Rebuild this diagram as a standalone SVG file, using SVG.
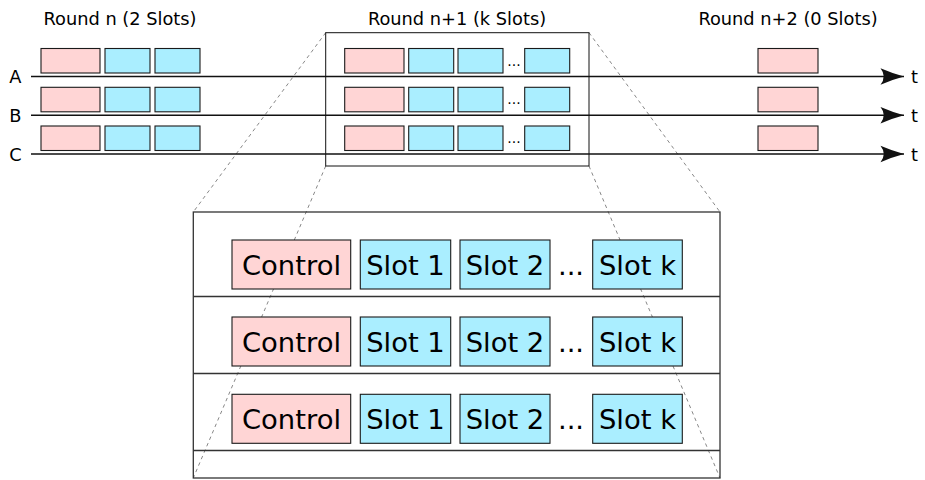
<svg xmlns="http://www.w3.org/2000/svg" width="925" height="480" viewBox="0 0 925 480">
  <style>
    text { font-family: "DejaVu Sans", "Liberation Sans", sans-serif; fill: #000; }
    .hdr { font-size: 17.8px; text-anchor: middle; }
    .lbl { font-size: 17.8px; }
    .big { font-size: 27.4px; text-anchor: middle; }
    .dots { font-size: 14px; text-anchor: middle; }
    .ctl { fill: #ffd5d5; stroke: #1a1a1a; stroke-width: 1.1; }
    .slot { fill: #aaeeff; stroke: #1a1a1a; stroke-width: 1.1; }
    .axis { fill: none; stroke: #111; stroke-width: 1.5; marker-end: url(#head); }
    .proj { fill: none; stroke: #888; stroke-width: 1; stroke-dasharray: 3.5 3.5; }
    .frame { fill: none; stroke: #333; stroke-width: 1.3; }
  </style>
  <defs>
    <marker id="head" markerUnits="userSpaceOnUse" viewBox="-25 -9 26 18" refX="0" refY="0" markerWidth="26" markerHeight="18" orient="auto">
      <path d="M0,0 Q-12,-3.2 -23.5,-8.2 Q-17,0 -23.5,8.2 Q-12,3.2 0,0 Z" fill="#111"/>
    </marker>
  </defs>

  <rect width="925" height="480" fill="#fff"/>

  <!-- round headings -->
  <g id="headings">
    <text class="hdr" x="120" y="24.5">Round n (2 Slots)</text>
    <text class="hdr" x="457" y="24.5">Round n+1 (k Slots)</text>
    <text class="hdr" x="788" y="24.5">Round n+2 (0 Slots)</text>
  </g>

  <!-- projection lines from the round n+1 frame to the enlarged view -->
  <g id="connectors">
    <line class="proj" x1="325.7" y1="32.7" x2="193.3" y2="212"/>
    <line class="proj" x1="325.7" y1="166" x2="193.3" y2="478"/>
    <line class="proj" x1="589" y1="32.7" x2="720" y2="212"/>
    <line class="proj" x1="589" y1="166" x2="720" y2="478"/>
    <!-- time axes -->
    <line class="axis" x1="31" y1="76.5" x2="904" y2="76.5"/>
    <line class="axis" x1="31" y1="115.3" x2="904" y2="115.3"/>
    <line class="axis" x1="31" y1="154" x2="904" y2="154"/>
  </g>

  <!-- node labels and time marks -->
  <g id="labels">
    <text class="lbl" x="9.3" y="83">A</text>
    <text class="lbl" x="9.3" y="121.8">B</text>
    <text class="lbl" x="9.3" y="160.5">C</text>
    <text class="lbl" x="911" y="83">t</text>
    <text class="lbl" x="911" y="121.8">t</text>
    <text class="lbl" x="911" y="160.5">t</text>
  </g>

  <!-- round n: control + 2 slots per node -->
  <g id="round-n">
    <rect class="ctl" x="41" y="48.5" width="59" height="24.5"/>
    <rect class="slot" x="105" y="48.5" width="45" height="24.5"/>
    <rect class="slot" x="155" y="48.5" width="45" height="24.5"/>
    <rect class="ctl" x="41" y="87.3" width="59" height="24.5"/>
    <rect class="slot" x="105" y="87.3" width="45" height="24.5"/>
    <rect class="slot" x="155" y="87.3" width="45" height="24.5"/>
    <rect class="ctl" x="41" y="126" width="59" height="24.5"/>
    <rect class="slot" x="105" y="126" width="45" height="24.5"/>
    <rect class="slot" x="155" y="126" width="45" height="24.5"/>
  </g>

  <!-- round n+1: control + k slots per node, framed -->
  <g id="round-n1">
    <rect x="325.7" y="32.7" width="263.3" height="133.3" fill="none" stroke="#111" stroke-width="1"/>
    <rect class="ctl" x="344.7" y="48.5" width="59.3" height="24.5"/>
    <rect class="slot" x="408.7" y="48.5" width="45" height="24.5"/>
    <rect class="slot" x="458" y="48.5" width="45" height="24.5"/>
    <text class="dots" x="514" y="65.5">...</text>
    <rect class="slot" x="524.7" y="48.5" width="45" height="24.5"/>
    <rect class="ctl" x="344.7" y="87.3" width="59.3" height="24.5"/>
    <rect class="slot" x="408.7" y="87.3" width="45" height="24.5"/>
    <rect class="slot" x="458" y="87.3" width="45" height="24.5"/>
    <text class="dots" x="514" y="104.3">...</text>
    <rect class="slot" x="524.7" y="87.3" width="45" height="24.5"/>
    <rect class="ctl" x="344.7" y="126" width="59.3" height="24.5"/>
    <rect class="slot" x="408.7" y="126" width="45" height="24.5"/>
    <rect class="slot" x="458" y="126" width="45" height="24.5"/>
    <text class="dots" x="514" y="143">...</text>
    <rect class="slot" x="524.7" y="126" width="45" height="24.5"/>
  </g>

  <!-- round n+2: control only -->
  <g id="round-n2">
    <rect class="ctl" x="758" y="48.5" width="60" height="24.5"/>
    <rect class="ctl" x="758" y="87.3" width="60" height="24.5"/>
    <rect class="ctl" x="758" y="126" width="60" height="24.5"/>
  </g>

  <!-- enlarged view of round n+1 -->
  <g id="detail">
    <rect class="frame" x="193.3" y="212" width="526.7" height="266"/>
    <line class="frame" x1="193.3" y1="296.5" x2="720" y2="296.5"/>
    <line class="frame" x1="193.3" y1="373.5" x2="720" y2="373.5"/>
    <line class="frame" x1="193.3" y1="450.5" x2="720" y2="450.5"/>
  </g>

  <g id="detail-row-1">
    <rect class="ctl" x="232" y="240" width="118.7" height="49"/>
    <text class="big" x="291.5" y="275">Control</text>
    <rect class="slot" x="360.3" y="240" width="90.4" height="49"/>
    <text class="big" x="405.5" y="275">Slot 1</text>
    <rect class="slot" x="460" y="240" width="90" height="49"/>
    <text class="big" x="505" y="275">Slot 2</text>
    <text class="big" x="571" y="275">...</text>
    <rect class="slot" x="592.7" y="240" width="89.6" height="49"/>
    <text class="big" x="637.5" y="275">Slot k</text>
  </g>

  <g id="detail-row-2">
    <rect class="ctl" x="232" y="317" width="118.7" height="49"/>
    <text class="big" x="291.5" y="352">Control</text>
    <rect class="slot" x="360.3" y="317" width="90.4" height="49"/>
    <text class="big" x="405.5" y="352">Slot 1</text>
    <rect class="slot" x="460" y="317" width="90" height="49"/>
    <text class="big" x="505" y="352">Slot 2</text>
    <text class="big" x="571" y="352">...</text>
    <rect class="slot" x="592.7" y="317" width="89.6" height="49"/>
    <text class="big" x="637.5" y="352">Slot k</text>
  </g>

  <g id="detail-row-3">
    <rect class="ctl" x="232" y="394.3" width="118.7" height="49"/>
    <text class="big" x="291.5" y="429.3">Control</text>
    <rect class="slot" x="360.3" y="394.3" width="90.4" height="49"/>
    <text class="big" x="405.5" y="429.3">Slot 1</text>
    <rect class="slot" x="460" y="394.3" width="90" height="49"/>
    <text class="big" x="505" y="429.3">Slot 2</text>
    <text class="big" x="571" y="429.3">...</text>
    <rect class="slot" x="592.7" y="394.3" width="89.6" height="49"/>
    <text class="big" x="637.5" y="429.3">Slot k</text>
  </g>
</svg>
